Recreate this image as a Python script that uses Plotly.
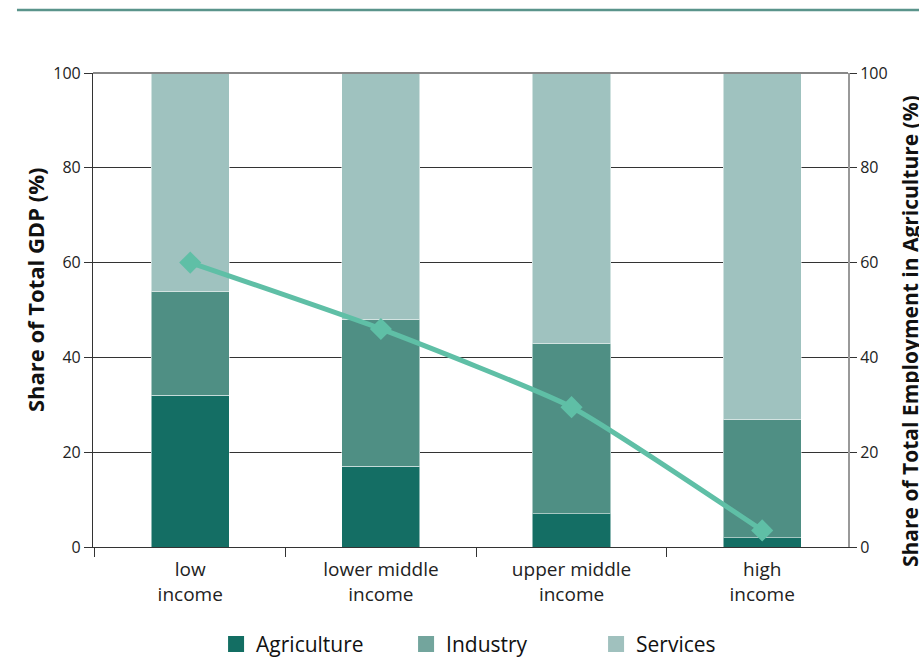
import plotly.graph_objects as go

categories = ["low<br>income", "lower middle<br>income", "upper middle<br>income", "high<br>income"]
agriculture = [32, 17, 7, 2]
industry = [22, 31, 36, 25]
services = [46, 52, 57, 73]
employment_agri = [60, 46, 29.5, 3.5]

y_ticks = [0, 20, 40, 60, 80, 100]

FONT = "Open Sans"
C_AGR = "#146e64"
C_IND = "#4f8f84"
C_SER = "#9fc2bf"
C_LINE = "#5fbfa6"

fig = go.Figure()

for name, vals, col in [("Agriculture", agriculture, C_AGR),
                        ("Industry", industry, C_IND),
                        ("Services", services, C_SER)]:
    fig.add_trace(go.Bar(x=categories, y=vals, name=name, marker_color=col,
                         marker_line=dict(color="rgba(255,255,255,0.5)", width=1),
                         showlegend=False, width=0.41))

# legend entries
for name, col in [("Agriculture", "#136e63"), ("Industry", "#73a59d"), ("Services", "#a0c1be")]:
    fig.add_trace(go.Scatter(x=[None], y=[None], mode="markers", name=name,
                             marker=dict(symbol="square", size=20, color=col)))

fig.add_trace(go.Scatter(x=categories, y=employment_agri, yaxis="y2", mode="lines+markers",
                         line=dict(color=C_LINE, width=5, shape="spline", smoothing=0.5),
                         marker=dict(symbol="diamond", size=17, color=C_LINE),
                         showlegend=False))

fig.update_layout(
    width=919, height=657,
    margin=dict(l=93, r=71, t=73, b=110, autoexpand=False),
    plot_bgcolor="white", paper_bgcolor="white",
    barmode="stack",
    font=dict(family=FONT, color="#222", size=16),
    xaxis=dict(type="category", tickson="boundaries", ticks="outside", ticklen=9,
               tickcolor="#333", showline=True, linecolor="#333", linewidth=1.2,
               tickfont=dict(size=19, color="#222"), showgrid=False,
               ticklabelstandoff=5,
               range=[-0.51, 3.45], automargin=False),
    yaxis=dict(range=[0, 100], tickvals=y_ticks, ticks="outside", ticklen=8,
               tickcolor="#333", showline=True, linecolor="#333", linewidth=1.2,
               showgrid=True, gridcolor="#333", gridwidth=1, zeroline=False,
               tickfont=dict(size=16, color="#222"), automargin=False),
    yaxis2=dict(range=[0, 100], tickvals=y_ticks, overlaying="y", side="right",
                ticks="outside", ticklen=7, tickcolor="#333", showline=True,
                linecolor="#999", linewidth=2, showgrid=False, zeroline=False,
                tickfont=dict(size=16, color="#222"), automargin=False),
    legend=dict(orientation="h", x=0.163, xanchor="left", y=-0.162, yanchor="top",
                font=dict(size=21, color="#111"), entrywidth=145, itemsizing="trace",
                traceorder="normal"),
    annotations=[
        dict(text="<b>Share of Total GDP (%)</b>", xref="paper", yref="paper",
             x=-0.0768, y=0.542, textangle=-90, showarrow=False,
             font=dict(size=22, color="#111"), xanchor="center", yanchor="middle"),
        dict(text="<b>Share of Total Employment in Agriculture (%)</b>", xref="paper", yref="paper",
             x=1.083, y=0.455, textangle=-90, showarrow=False,
             font=dict(size=21, color="#111"), xanchor="center", yanchor="middle"),
    ],
    shapes=[
        dict(type="line", xref="paper", yref="paper", x0=-0.1007, x1=1.2,
             y0=1.133, y1=1.133, line=dict(color="#5a948b", width=2.5)),
        dict(type="line", xref="paper", yref="paper", x0=0, x1=1,
             y0=1, y1=1, line=dict(color="#888", width=2)),
    ],
)

fig.write_html("out.html", config={"displayModeBar": False},
               post_script="document.body.style.margin='0';document.body.style.overflow='hidden';")
